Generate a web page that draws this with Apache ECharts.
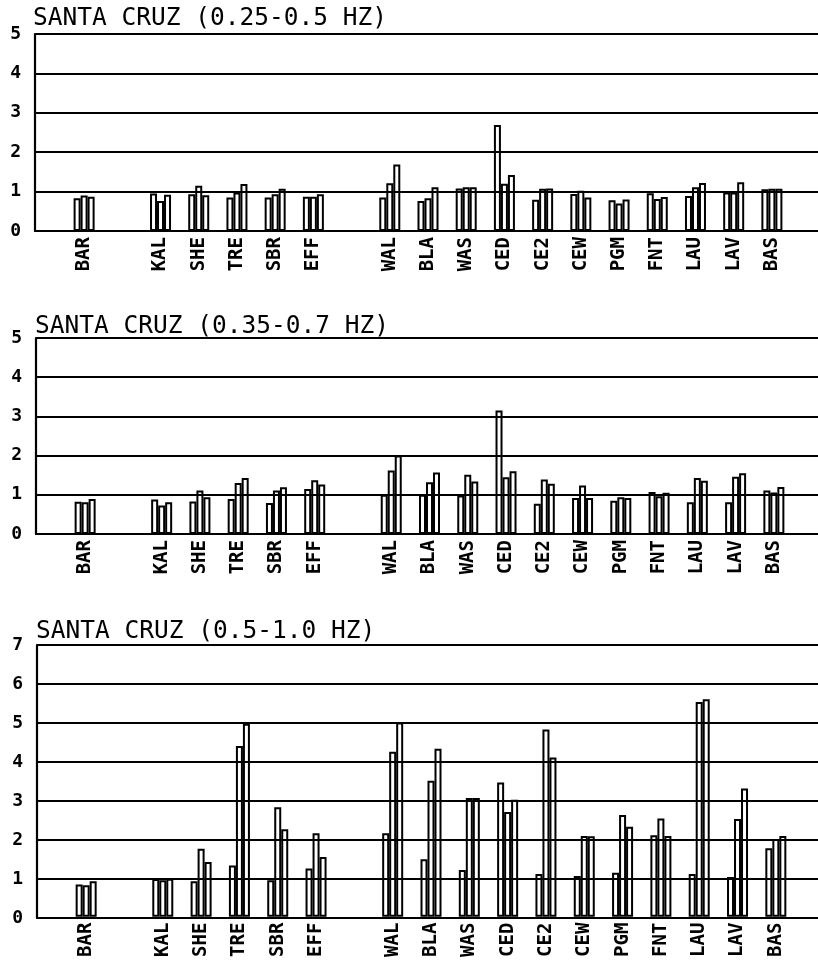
<!DOCTYPE html>
<html>
<head>
<meta charset="utf-8">
<script src="https://cdn.jsdelivr.net/npm/echarts@6/dist/echarts.min.js"></script>
<style>html,body{margin:0;padding:0;background:#fff}#c{width:818px;height:960px}</style>
</head>
<body>
<div id="c"></div>
<script>
const categories = ['BAR','','KAL','SHE','TRE','SBR','EFF','','WAL','BLA','WAS','CED','CE2','CEW','PGM','FNT','LAU','LAV','BAS'];
const titles = ['SANTA CRUZ (0.25-0.5 HZ)','SANTA CRUZ (0.35-0.7 HZ)','SANTA CRUZ (0.5-1.0 HZ)'];
const yMax = [5, 5, 7];

const p1a = [0.83,null,0.95,0.93,0.85,0.85,0.87,null,0.85,0.76,1.08,2.69,0.79,0.94,0.78,0.96,0.89,0.98,1.06];
const p1b = [0.90,null,0.76,1.15,0.98,0.93,0.87,null,1.21,0.83,1.11,1.20,1.07,1.02,0.70,0.81,1.11,0.98,1.07];
const p1c = [0.87,null,0.92,0.91,1.19,1.07,0.93,null,1.69,1.11,1.11,1.42,1.08,0.85,0.80,0.86,1.22,1.24,1.07];

const p2a = [0.82,null,0.88,0.83,0.89,0.79,1.15,null,1.00,1.00,0.98,3.15,0.77,0.92,0.85,1.07,0.81,0.81,1.11];
const p2b = [0.81,null,0.73,1.11,1.30,1.11,1.37,null,1.62,1.32,1.51,1.45,1.39,1.24,0.94,0.96,1.43,1.46,1.06];
const p2c = [0.89,null,0.81,0.94,1.43,1.19,1.26,null,2.00,1.57,1.34,1.60,1.28,0.92,0.92,1.05,1.36,1.55,1.20];

const p3a = [0.83,null,0.97,0.91,1.32,0.94,1.24,null,2.15,1.48,1.20,3.46,1.10,1.05,1.13,2.10,1.10,1.02,1.76];
const p3b = [0.81,null,0.94,1.75,4.40,2.82,2.15,null,4.25,3.50,3.06,2.70,4.82,2.08,2.62,2.53,5.53,2.52,2.00];
const p3c = [0.91,null,0.98,1.41,4.97,2.25,1.54,null,5.00,4.33,3.06,3.01,4.10,2.07,2.32,2.08,5.60,3.30,2.08];

const panelData = [[p1a,p1b,p1c],[p2a,p2b,p2c],[p3a,p3b,p3c]];

// layout (pixels)
const layout = [
  {frameLeft:35, top:34, base:231, barLeft:65, barRight:791, titleLeft:28, titleTop:1},
  {frameLeft:36, top:338, base:534, barLeft:66, barRight:793, titleLeft:30, titleTop:309},
  {frameLeft:37, top:645, base:918, barLeft:67, barRight:795, titleLeft:31, titleTop:614}
];
const W = 818, H = 960;
const mono = "'DejaVu Sans Mono', monospace";

const grid = [], xAxis = [], yAxis = [], series = [], title = [];
layout.forEach((L, p) => {
  const g0 = grid.length;
  grid.push({left:L.frameLeft, right:0, top:L.top, bottom:H - L.base, containLabel:false});
  grid.push({left:L.barLeft, right:W - L.barRight, top:L.top, bottom:H - L.base, containLabel:false});
  title.push({text:titles[p], left:L.titleLeft, top:L.titleTop,
    textStyle:{fontFamily:mono, fontSize:24.5, fontWeight:'normal', color:'#000'}});
  // frame axes
  xAxis.push({type:'category', gridIndex:g0, data:[''], boundaryGap:true,
    axisLine:{show:true, lineStyle:{color:'#000', width:2.2}}, axisTick:{show:false}, axisLabel:{show:false}, splitLine:{show:false}});
  yAxis.push({type:'value', gridIndex:g0, min:0, max:yMax[p], interval:1,
    axisLine:{show:true, lineStyle:{color:'#000', width:2.2}}, axisTick:{show:false},
    axisLabel:{color:'#000', fontFamily:mono, fontWeight:'bold', fontSize:18, margin:14},
    splitLine:{show:true, lineStyle:{color:'#000', width:1.9}}});
  // bar axes
  xAxis.push({type:'category', gridIndex:g0+1, data:categories, boundaryGap:true,
    axisLine:{show:false}, axisTick:{show:false},
    axisLabel:{interval:0, rotate:90, color:'#000', fontFamily:mono, fontWeight:'bold', fontSize:19, margin:6},
    splitLine:{show:false}});
  yAxis.push({type:'value', gridIndex:g0+1, min:0, max:yMax[p], interval:1, show:false});
  panelData[p].forEach((arr, k) => {
    series.push({type:'bar', xAxisIndex:g0+1, yAxisIndex:g0+1, data:arr,
      barWidth:7, barGap:'0%', silent:true,
      itemStyle:{color:'rgba(255,255,255,0)', borderColor:'#000', borderWidth:2}});
  });
});

const chart = echarts.init(document.getElementById('c'), null, {renderer:'canvas'});
chart.setOption({animation:false, backgroundColor:'#fff', title, grid, xAxis, yAxis, series});
</script>
</body>
</html>
